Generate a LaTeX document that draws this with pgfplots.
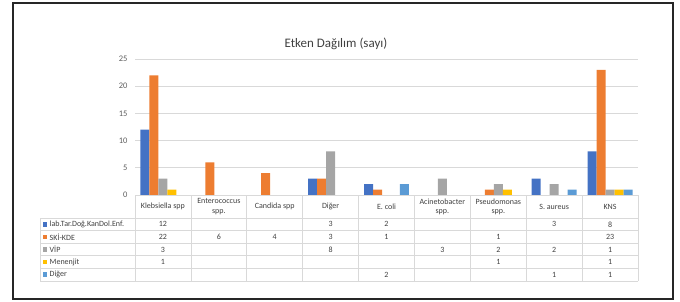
\documentclass[border=0pt]{standalone}
\usepackage{pgfplots}
\pgfplotsset{compat=1.18}
\usepackage{fontspec}
\setmainfont{Carlito}
\definecolor{c1}{HTML}{4472C4}
\definecolor{c2}{HTML}{ED7D31}
\definecolor{c3}{HTML}{A5A5A5}
\definecolor{c4}{HTML}{FFC000}
\definecolor{c5}{HTML}{5B9BD5}
\definecolor{txt}{HTML}{404040}
\definecolor{gridc}{HTML}{D9D9D9}
\begin{document}
\begin{tikzpicture}[x=1pt,y=1pt]
\useasboundingbox (0,0) rectangle (680,301);
\draw[line width=1.6pt, black!85] (13,2) rectangle (673,298);
\node[text=txt, font=\fontsize{13}{15}\selectfont] at (336,257) {Etken Dağılım (sayı)};
\begin{axis}[
  at={(135pt,106pt)}, anchor=south west,
  scale only axis, width=503pt, height=136pt,
  xmin=-0.5, xmax=8.5, ymin=0, ymax=25,
  ytick={0,5,...,25}, xtick=\empty,
  ymajorgrids, grid style={draw=gridc, line width=0.8pt},
  axis line style={draw=none},
  major tick length=0pt,
  yticklabel style={text=txt!85, font=\fontsize{8.5}{10}\selectfont, xshift=-4pt},
  /pgf/number format/assume math mode=true,
  ybar, bar width=0.161,
  clip=false,
]
\addplot[fill=c1, draw=none, bar shift=-0.322] coordinates {(0,12) (3,3) (4,2) (7,3) (8,8)};
\addplot[fill=c2, draw=none, bar shift=-0.161] coordinates {(0,22) (1,6) (2,4) (3,3) (4,1) (6,1) (8,23)};
\addplot[fill=c3, draw=none, bar shift=0] coordinates {(0,3) (3,8) (5,3) (6,2) (7,2) (8,1)};
\addplot[fill=c4, draw=none, bar shift=0.161] coordinates {(0,1) (6,1) (8,1)};
\addplot[fill=c5, draw=none, bar shift=0.322] coordinates {(4,2) (7,1) (8,1)};
\end{axis}
% data table
\def\cw{55.889}
\begin{scope}[draw=gridc, line width=0.7pt]
  \draw (135,106) -- (638,106);
  \foreach \yy in {83,70.4,57.8,45.2,32.6,20} \draw (40,\yy) -- (638,\yy);
  \foreach \k in {0,...,9} \draw ({135+\k*\cw},106) -- ({135+\k*\cw},20);
  \draw (40,83) -- (40,20);
\end{scope}
\begin{scope}[every node/.style={text=txt, font=\fontsize{8}{9.2}\selectfont, align=center, inner sep=0pt}]
  \foreach \lab [count=\i from 0] in {Klebsiella spp,{Enterococcus\\spp.},Candida spp,Diğer,E. coli,{Acinetobacter\\spp.},{Pseudomonas\\spp.},S. aureus,KNS}
    \node at ({135+(\i+0.5)*\cw},94.5) {\lab};
  \foreach \v [count=\i from 0] in {12,,,3,2,,,3,8} \node at ({135+(\i+0.5)*\cw},76.7) {\v};
  \foreach \v [count=\i from 0] in {22,6,4,3,1,,1,,23} \node at ({135+(\i+0.5)*\cw},64.1) {\v};
  \foreach \v [count=\i from 0] in {3,,,8,,3,2,2,1} \node at ({135+(\i+0.5)*\cw},51.5) {\v};
  \foreach \v [count=\i from 0] in {1,,,,,,1,,1} \node at ({135+(\i+0.5)*\cw},38.9) {\v};
  \foreach \v [count=\i from 0] in {,,,,2,,,1,1} \node at ({135+(\i+0.5)*\cw},26.3) {\v};
  \foreach \lab/\col/\yy in {lab.Tar.Doğ.KanDol.Enf./c1/76.7, SKİ-KDE/c2/64.1, VİP/c3/51.5, Menenjit/c4/38.9, Diğer/c5/26.3} {
    \fill[\col] (42.5,\yy-2.3) rectangle (47.1,\yy+2.3);
    \node[anchor=west] at (49.5,\yy) {\lab};
  }
\end{scope}
\end{tikzpicture}
\end{document}
